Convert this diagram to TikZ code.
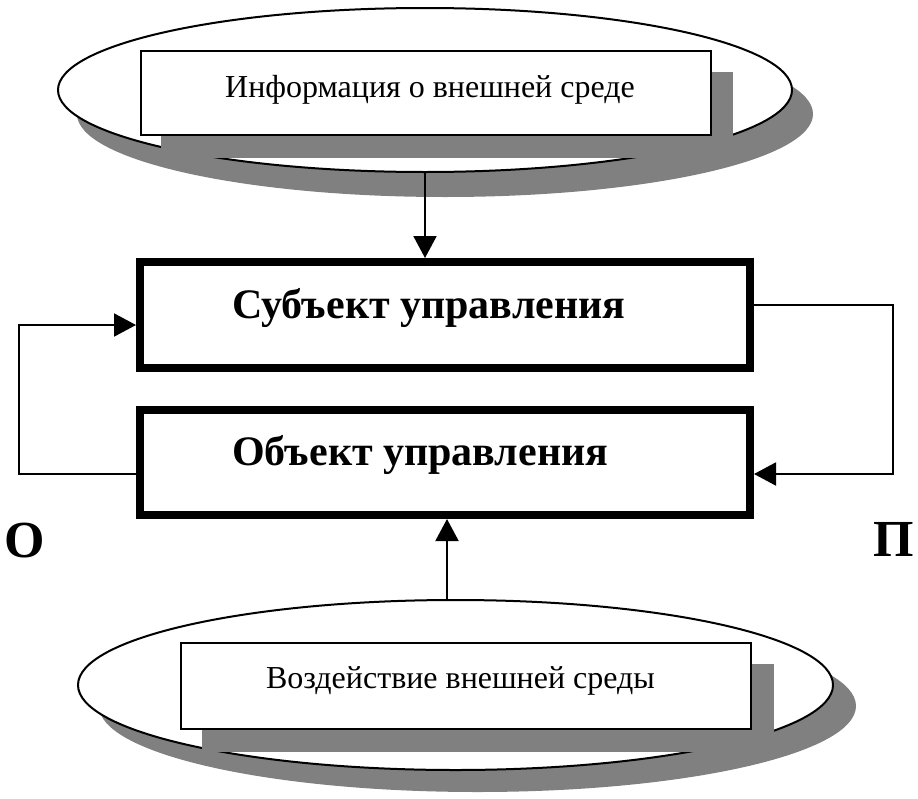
\documentclass[tikz,border=0pt]{standalone}
\usepackage{fontspec}
\setmainfont{Liberation Serif}
\usetikzlibrary{arrows.meta,shapes.geometric}
\definecolor{shadowgray}{RGB}{128,128,128}
\begin{document}
\begin{tikzpicture}[x=1pt,y=-1pt,
  envell/.style={ellipse, draw=black, line width=2pt, fill=white, inner sep=0pt},
  envbox/.style={rectangle, draw=black, line width=2pt, fill=white, inner sep=0pt},
  shadowfill/.style={fill=shadowgray, draw=none},
  mainbox/.style={rectangle, draw=black, line width=8pt, fill=white, inner sep=0pt, minimum width=610pt},
  arr/.style={-{Triangle[length=22pt,width=23pt]}, line width=2pt},
  lbl/.style={font=\fontsize{32}{36}\selectfont, inner sep=0pt},
  boldlbl/.style={font=\fontsize{42}{48}\selectfont\bfseries, inner sep=0pt},
  letter/.style={font=\fontsize{52}{60}\selectfont\bfseries, inner sep=0pt}]
\useasboundingbox (0,0) rectangle (918,798);
\fill[white] (0,0) rectangle (918,798);

% top environment
\node[envell, shadowfill, minimum width=736pt, minimum height=166pt] (topellshadow) at (445,114) {};
\node[envell, minimum width=734pt, minimum height=164pt] (topell) at (425,90) {};
\node[envbox, shadowfill, minimum width=572pt, minimum height=86pt] (toprectshadow) at (447,115) {};
\node[envbox, minimum width=570pt, minimum height=84pt] (toprect) at (426,93) {};
\node[lbl, anchor=base] (toptext) at (430,97) {Информация о внешней среде};

% bottom environment
\node[envell, shadowfill, minimum width=757pt, minimum height=172pt] (botellshadow) at (477.5,706) {};
\node[envell, minimum width=755pt, minimum height=170pt] (botell) at (455.5,685) {};
\node[envbox, shadowfill, minimum width=572pt, minimum height=88pt] (botrectshadow) at (488,708) {};
\node[envbox, minimum width=570pt, minimum height=86pt] (botrect) at (466,686) {};
\node[lbl, anchor=base] (bottext) at (460.5,688) {Воздействие внешней среды};

% main boxes
\node[mainbox, minimum height=106pt] (subj) at (445,315) {};
\node[boldlbl, anchor=base west] (subjtext) at (232,318) {Субъект управления};
\node[mainbox, minimum height=105pt] (obj) at (445,462.5) {};
\node[boldlbl, anchor=base west] (objtext) at (232,465) {Объект управления};

% side letters
\node[letter] (lblO) at (24.5,541) {О};
\node[letter] (lblP) at (894,539) {П};

% connectors
\coordinate (lc1) at (19,474);
\coordinate (lc2) at (19,325);
\coordinate (rc1) at (893,305);
\coordinate (rc2) at (893,474);
\coordinate (barrow) at (447,600);

\draw[arr] (obj.west |- lc1) -- (lc1) -- (lc2) -- (subj.west |- lc2);
\draw[arr] (subj.east |- rc1) -- (rc1) -- (rc2) -- (obj.east |- rc2);
\draw[arr] (topell.south) -- (topell.south |- subj.north);
\draw[arr] (barrow) -- (barrow |- obj.south);
\end{tikzpicture}
\end{document}
